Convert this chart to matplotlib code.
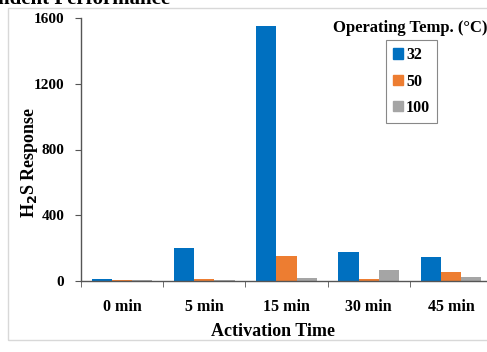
import numpy as np
import matplotlib.pyplot as plt
from matplotlib.patches import Rectangle, Patch

plt.rcParams['font.family'] = ['Liberation Serif', 'DejaVu Serif']
plt.rcParams['font.weight'] = 'bold'

# 活化时间 / 工作温度下的 H2S 响应
times = ['0 min', '5 min', '15 min', '30 min', '45 min']
temps = ['32', '50', '100']
resp_32 = [12, 200, 1550, 178, 148]
resp_50 = [4, 12, 152, 14, 57]
resp_100 = [8, 4, 20, 67, 22]
colors = ['#0070C0', '#ED7D31', '#A5A5A5']

fig = plt.figure(figsize=(4.87, 3.52), dpi=100)

# 外框 + 被截断的标题
fig.patches.append(Rectangle((8 / 487, 12 / 352), 1.0, 1 - 20 / 352, transform=fig.transFigure,
                             fill=False, edgecolor='#d8d8d8', linewidth=1.0))
fig.text(-0.005, 1 - 4 / 352, 'ndent Performance', fontsize=15, fontweight='bold',
         va='baseline', ha='left')

ax = fig.add_axes([81 / 487, 71 / 352, 411 / 487, 263 / 352])
x = np.arange(len(times))
w = 0.245
for i, (vals, c, lab) in enumerate(zip([resp_32, resp_50, resp_100], colors, temps)):
    ax.bar(x + (i - 1) * w, vals, width=w, color=c, label=lab)

ax.set_xlim(-0.5, len(times) - 0.5)
ax.set_ylim(0, 1600)
ax.set_yticks([0, 400, 800, 1200, 1600])
ax.set_xticks(x)
ax.set_xticklabels(times, fontsize=11.5, fontweight='bold')
ax.set_xticks(np.arange(-0.5, len(times)), minor=True)
ax.tick_params(axis='x', which='major', length=0, pad=13)
ax.tick_params(axis='x', which='minor', length=4, direction='out', color='#555555')
ax.tick_params(axis='y', labelsize=11, length=4, color='#555555', pad=8)
for t in ax.get_yticklabels():
    t.set_fontweight('bold')
for s in ['top', 'right']:
    ax.spines[s].set_visible(False)
for s in ['left', 'bottom']:
    ax.spines[s].set_color('#555555')
    ax.spines[s].set_linewidth(1.0)

ax.set_ylabel('H$_\\mathbf{2}$S Response', fontsize=13, fontweight='bold')
ax.yaxis.set_label_coords(-51 / 411, (281 - 162) / 263)
ax.set_xlabel('Activation Time', fontsize=13, fontweight='bold')
ax.xaxis.set_label_coords((273 - 81) / 411, -(332 - 281) / 263)
ax.xaxis.label.set_va('center')
ax.yaxis.label.set_va('center')

fig.text(410 / 487, 1 - 28 / 352, 'Operating Temp. (\u00b0C)', fontsize=12, fontweight='bold',
         ha='center', va='center')
handles = [Patch(color=c) for c in colors]
leg = ax.legend(handles, temps, loc='upper left', bbox_to_anchor=(386 / 487, 1 - 40 / 352),
                bbox_transform=fig.transFigure, prop={'size': 11.5, 'weight': 'bold'},
                handlelength=0.6, handleheight=0.6, handletextpad=0.2, labelspacing=0.65,
                borderpad=0.45, fancybox=False, framealpha=1, borderaxespad=0)
leg.get_frame().set_edgecolor('#888888')
leg.get_frame().set_linewidth(0.8)

fig.savefig('out.png', dpi=100)
